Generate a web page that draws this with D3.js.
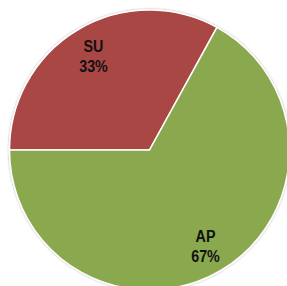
<!DOCTYPE html>
<html>
<head>
<meta charset="utf-8">
<script src="https://cdn.jsdelivr.net/npm/d3@7"></script>
<style>
body{margin:0;background:#fff;}
svg{display:block;}
</style>
</head>
<body>
<svg width="287" height="286"></svg>
<script>
var labels = ["SU", "AP"];
var values = [33, 67];
var colors = ["#a94744", "#8aa84e"];

var svg = d3.select("svg"),
width = +svg.attr("width"),
height = +svg.attr("height");

var cx = 149.5, cy = 150, radius = 140, labelRadius = 110;

var defs = svg.append("defs");
var f = defs.append("filter").attr("id", "shadow")
  .attr("x", "-10%").attr("y", "-10%").attr("width", "120%").attr("height", "120%");
f.append("feGaussianBlur").attr("in", "SourceAlpha").attr("stdDeviation", 1.2);
f.append("feComponentTransfer").append("feFuncA").attr("type", "linear").attr("slope", 0.35);
var m = f.append("feMerge");
m.append("feMergeNode");
m.append("feMergeNode").attr("in", "SourceGraphic");

var g = svg.append("g").attr("transform", "translate(" + cx + "," + cy + ")");

// SU starts at 9 o'clock and runs clockwise
var pie = d3.pie().sort(null).value(function(d){ return d; })
  .startAngle(-Math.PI / 2).endAngle(1.5 * Math.PI);
var arcs = pie(values);

var arc = d3.arc().innerRadius(0).outerRadius(radius);
var labelArc = d3.arc().innerRadius(labelRadius).outerRadius(labelRadius);

g.append("g").attr("filter", "url(#shadow)")
  .selectAll("path").data(arcs).enter().append("path")
  .attr("d", arc)
  .attr("fill", function(d, i){ return colors[i]; })
  .attr("stroke", "#fff")
  .attr("stroke-width", 1.5);

var total = d3.sum(values);
// narrow-looking bold labels: squeeze horizontally
var lbl = g.selectAll("text.lbl").data(arcs).enter().append("text")
  .attr("class", "lbl")
  .attr("transform", function(d){ return "translate(" + labelArc.centroid(d) + ") scale(0.84,1)"; })
  .attr("text-anchor", "middle")
  .style("font-family", "'Liberation Sans', Arial, sans-serif")
  .style("font-weight", "bold")
  .style("font-size", "17px")
  .attr("fill", "#111");

lbl.append("tspan").attr("x", 0).attr("y", -3)
  .text(function(d, i){ return labels[i]; });
lbl.append("tspan").attr("x", 0).attr("y", 17)
  .text(function(d){ return Math.round(d.value / total * 100) + "%"; });
</script>
</body>
</html>
